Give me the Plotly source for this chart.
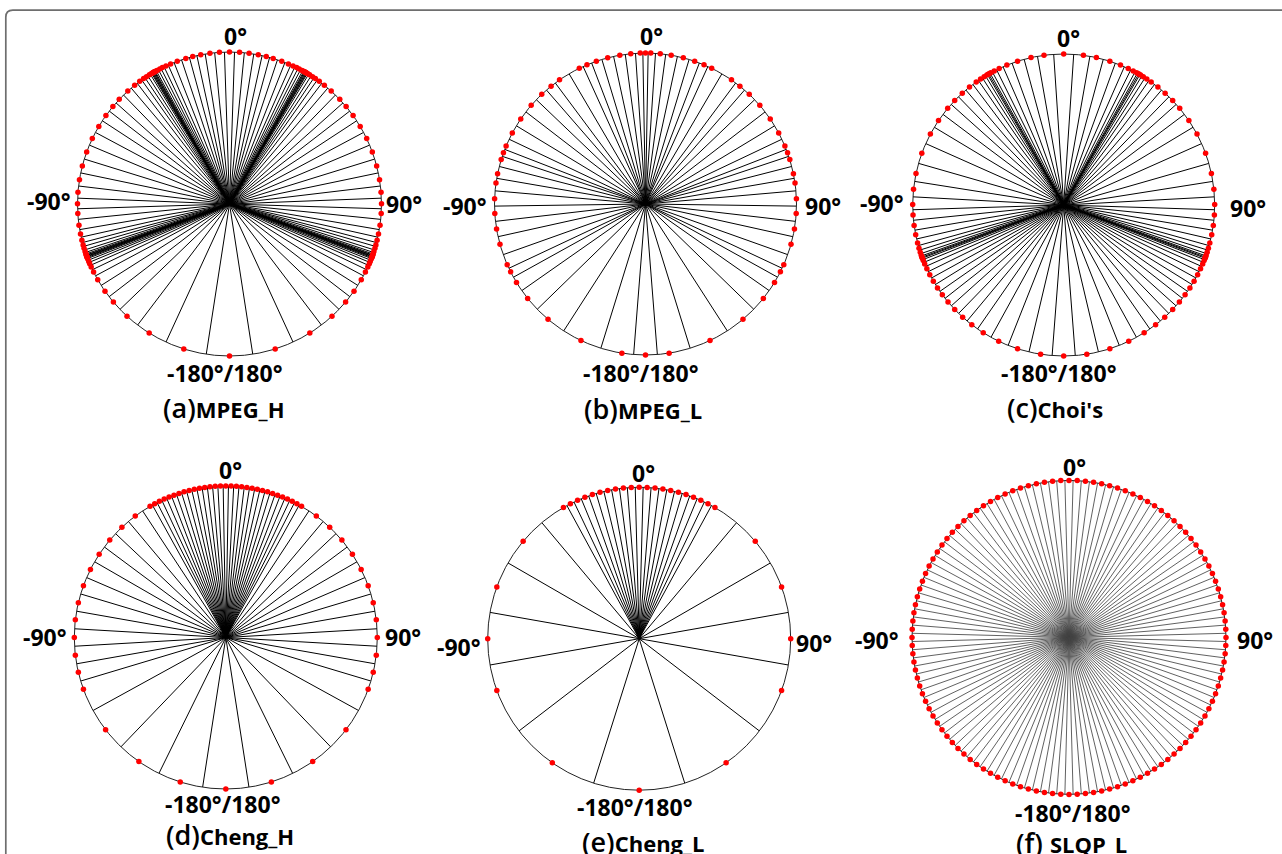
import plotly.graph_objects as go

W, H = 1282, 854

# ---- codeword azimuths (deg, clockwise from front) and cell boundaries ----
MPEG_H_CODES = [-162.5, -148.1, -137.6, -130.2, -125.0, -119.9, -116.6, -114.5, -113.1, -112.2,
                -111.2, -110.7, -110.4, -110.2, -110.0, -109.7, -109.4, -109.0, -108.2, -106.9,
                -105.6, -103.8, -101.4, -98.0, -93.6, -89.9, -85.6, -80.8, -75.5, -70.0,
                -64.5, -59.3, -54.4, -50.1, -46.5, -42.0, -38.6, -36.2, -34.4, -33.1,
                -31.8, -31.0, -30.6, -30.3, -30.0, -29.7, -29.5, -29.1, -28.5, -27.3,
                -26.2, -24.7, -22.8, -20.1, -16.7, -14.0, -10.9, -7.4, -3.8, 0.0,
                3.8, 7.4, 10.9, 14.0, 16.7, 20.1, 22.8, 24.7, 26.2, 27.3,
                28.5, 29.1, 29.5, 29.7, 30.0, 30.3, 30.6, 31.0, 31.8, 33.1,
                34.4, 36.2, 38.6, 42.0, 46.5, 50.1, 54.4, 59.3, 64.5, 70.0,
                75.5, 80.8, 85.6, 89.9, 93.6, 98.0, 101.4, 103.8, 105.6, 106.9,
                108.2, 109.0, 109.4, 109.7, 110.0, 110.2, 110.4, 110.7, 111.2, 112.2,
                113.1, 114.5, 116.6, 119.9, 125.0, 130.2, 137.6, 148.1, 162.5, 180.0]
MPEG_H_EDGES = [-171.2, -155.3, -142.8, -133.9, -127.6, -122.4, -118.2, -115.6, -113.8, -112.6,
                -111.7, -111.0, -110.6, -110.3, -110.1, -109.8, -109.6, -109.2, -108.6, -107.6,
                -106.2, -104.7, -102.6, -99.7, -95.8, -91.8, -87.8, -83.2, -78.2, -72.8,
                -67.2, -61.9, -56.8, -52.3, -48.3, -44.2, -40.3, -37.4, -35.3, -33.8,
                -32.5, -31.4, -30.8, -30.5, -30.2, -29.9, -29.6, -29.3, -28.8, -27.9,
                -26.8, -25.5, -23.8, -21.4, -18.4, -15.3, -12.4, -9.2, -5.6, -1.9,
                1.9, 5.6, 9.2, 12.4, 15.3, 18.4, 21.4, 23.8, 25.5, 26.8,
                27.9, 28.8, 29.3, 29.6, 29.9, 30.2, 30.5, 30.8, 31.4, 32.5,
                33.8, 35.3, 37.4, 40.3, 44.2, 48.3, 52.3, 56.8, 61.9, 67.2,
                72.8, 78.2, 83.2, 87.8, 91.8, 95.8, 99.7, 102.6, 104.7, 106.2,
                107.6, 108.6, 109.2, 109.6, 109.8, 110.1, 110.3, 110.6, 111.0, 111.7,
                112.6, 113.8, 115.6, 118.2, 122.4, 127.6, 133.9, 142.8, 155.3, 171.2]

MPEG_L_CODES = [-171.0, -154.7, -139.8, -128.7, -121.3, -116.7, -113.7, -105.5, -99.5, -93.6,
                -88.0, -82.0, -78.4, -72.9, -70.2, -67.4, -61.9, -55.7, -49.2, -43.4,
                -38.7, -34.7, -26.0, -22.8, -19.0, -14.5, -9.8, -5.6, -2.0, 0.0,
                2.0, 5.6, 9.8, 14.5, 19.0, 22.8, 26.0, 34.7, 38.7, 43.4,
                49.2, 55.7, 61.9, 67.4, 70.2, 72.9, 78.4, 82.0, 88.0, 93.6,
                99.5, 105.5, 113.7, 116.7, 121.3, 128.7, 139.8, 154.7, 171.0, 180.0]
MPEG_L_EDGES = [-175.5, -162.8, -147.2, -134.2, -125.0, -119.0, -115.2, -109.6, -102.5, -96.6,
                -90.8, -85.0, -80.2, -75.6, -71.6, -68.8, -64.6, -58.8, -52.4, -46.3,
                -41.0, -36.7, -30.4, -24.4, -20.9, -16.8, -12.2, -7.7, -3.8, -1.0,
                1.0, 3.8, 7.7, 12.2, 16.8, 20.9, 24.4, 30.4, 36.7, 41.0,
                46.3, 52.4, 58.8, 64.6, 68.8, 71.6, 75.6, 80.2, 85.0, 90.8,
                96.6, 102.5, 109.6, 115.2, 119.0, 125.0, 134.2, 147.2, 162.8, 175.5]

CHOI_CODES = [-171.2, -162.2, -154.5, -147.8, -142.5, -138.0, -133.8, -130.0, -126.5, -123.3,
              -120.3, -117.5, -115.0, -113.0, -111.6, -110.8, -110.3, -110.0, -109.4, -108.2,
              -106.6, -104.6, -101.4, -97.8, -93.8, -89.8, -84.0, -78.0, -70.0, -62.0,
              -56.0, -50.2, -46.2, -42.2, -38.6, -35.4, -33.4, -31.8, -30.6, -30.0,
              -29.6, -28.9, -27.4, -25.3, -22.1, -17.8, -12.5, -7.5, 0.0,
              7.5, 12.5, 17.8, 22.1, 25.3, 27.4, 28.9, 29.6, 30.0, 30.6,
              31.8, 33.4, 35.4, 38.6, 42.2, 46.2, 50.2, 56.0, 62.0, 70.0,
              78.0, 84.0, 89.8, 93.8, 97.8, 101.4, 104.6, 106.6, 108.2, 109.4,
              110.0, 110.3, 110.8, 111.6, 113.0, 115.0, 117.5, 120.3, 123.3, 126.5,
              130.0, 133.8, 138.0, 142.5, 147.8, 154.5, 162.2, 171.2, 180.0]
CHOI_EDGES = [-175.6, -166.7, -158.4, -151.2, -145.2, -140.2, -135.9, -131.9, -128.2, -124.9,
              -121.8, -118.9, -116.2, -114.0, -112.3, -111.2, -110.6, -110.2, -109.7, -108.8,
              -107.4, -105.6, -103.0, -99.6, -95.8, -91.8, -86.9, -81.0, -74.0, -66.0,
              -59.0, -53.1, -48.2, -44.2, -40.4, -37.0, -34.4, -32.6, -31.2, -30.3,
              -29.8, -29.2, -28.2, -26.4, -23.7, -20.0, -15.2, -10.0, -3.8,
              3.8, 10.0, 15.2, 20.0, 23.7, 26.4, 28.2, 29.2, 29.8, 30.3,
              31.2, 32.6, 34.4, 37.0, 40.4, 44.2, 48.2, 53.1, 59.0, 66.0,
              74.0, 81.0, 86.9, 91.8, 95.8, 99.6, 103.0, 105.6, 107.4, 108.8,
              109.7, 110.2, 110.6, 111.2, 112.3, 114.0, 116.2, 118.9, 121.8, 124.9,
              128.2, 131.9, 135.9, 140.2, 145.2, 151.2, 158.4, 166.7, 175.6]

CHENG_H_CODES = [-162.5, -145.0, -127.5, -110.0, -103.3, -96.7, -90.0, -83.3, -76.7, -70.0,
                 -63.3, -56.7, -50.0, -43.3, -36.7, -30, -28, -26, -24, -22,
                 -20, -18, -16, -14, -12, -10, -8, -6, -4, -2, 0,
                 2, 4, 6, 8, 10, 12, 14, 16, 18, 20,
                 22, 24, 26, 28, 30, 36.7, 43.3, 50.0, 56.7, 63.3,
                 70.0, 76.7, 83.3, 90.0, 96.7, 103.3, 110.0, 127.5, 145.0, 162.5, 180.0]
CHENG_H_EDGES = [-171.2, -153.8, -136.2, -118.8, -106.7, -100.0, -93.3, -86.7, -80.0, -73.3,
                 -66.7, -60.0, -53.3, -46.7, -40.0, -33.3, -29, -27, -25, -23,
                 -21, -19, -17, -15, -13, -11, -9, -7, -5, -3, -1,
                 1, 3, 5, 7, 9, 11, 13, 15, 17, 19,
                 21, 23, 25, 27, 29, 33.3, 40.0, 46.7, 53.3, 60.0,
                 66.7, 73.3, 80.0, 86.7, 93.3, 100.0, 106.7, 118.8, 136.2, 153.8, 171.2]

CHENG_L_CODES = [-145, -110, -90, -70, -50, -30, -27, -24, -21, -18, -15, -12, -9, -6, -3, 0,
                 3, 6, 9, 12, 15, 18, 21, 24, 27, 30, 50, 70, 90, 110, 145, 180]
CHENG_L_EDGES = [-162.5, -127.5, -100, -80, -60, -40, -28.5, -25.5, -22.5, -19.5, -16.5, -13.5,
                 -10.5, -7.5, -4.5, -1.5, 1.5, 4.5, 7.5, 10.5, 13.5, 16.5, 19.5, 22.5, 25.5,
                 28.5, 40, 60, 80, 100, 127.5, 162.5]

SLQP_L_CODES = [-177, -174, -171, -168, -165, -162, -159, -156, -153, -150,
                -147, -144, -141, -138, -135, -132, -129, -126, -123, -120,
                -117, -114, -111, -108, -105, -102, -99, -96, -93, -90,
                -87, -84, -81, -78, -75, -72, -69, -66, -63, -60,
                -57, -54, -51, -48, -45, -42, -39, -36, -33, -30,
                -27, -24, -21, -18, -15, -12, -9, -6, -3, 0,
                3, 6, 9, 12, 15, 18, 21, 24, 27, 30,
                33, 36, 39, 42, 45, 48, 51, 54, 57, 60,
                63, 66, 69, 72, 75, 78, 81, 84, 87, 90,
                93, 96, 99, 102, 105, 108, 111, 114, 117, 120,
                123, 126, 129, 132, 135, 138, 141, 144, 147, 150,
                153, 156, 159, 162, 165, 168, 171, 174, 177, 180]
SLQP_L_EDGES = [-178.5, -175.5, -172.5, -169.5, -166.5, -163.5, -160.5, -157.5, -154.5, -151.5,
                -148.5, -145.5, -142.5, -139.5, -136.5, -133.5, -130.5, -127.5, -124.5, -121.5,
                -118.5, -115.5, -112.5, -109.5, -106.5, -103.5, -100.5, -97.5, -94.5, -91.5,
                -88.5, -85.5, -82.5, -79.5, -76.5, -73.5, -70.5, -67.5, -64.5, -61.5,
                -58.5, -55.5, -52.5, -49.5, -46.5, -43.5, -40.5, -37.5, -34.5, -31.5,
                -28.5, -25.5, -22.5, -19.5, -16.5, -13.5, -10.5, -7.5, -4.5, -1.5,
                1.5, 4.5, 7.5, 10.5, 13.5, 16.5, 19.5, 22.5, 25.5, 28.5,
                31.5, 34.5, 37.5, 40.5, 43.5, 46.5, 49.5, 52.5, 55.5, 58.5,
                61.5, 64.5, 67.5, 70.5, 73.5, 76.5, 79.5, 82.5, 85.5, 88.5,
                91.5, 94.5, 97.5, 100.5, 103.5, 106.5, 109.5, 112.5, 115.5, 118.5,
                121.5, 124.5, 127.5, 130.5, 133.5, 136.5, 139.5, 142.5, 145.5, 148.5,
                151.5, 154.5, 157.5, 160.5, 163.5, 166.5, 169.5, 172.5, 175.5, 178.5]

PANEL_TAGS = ["(a)", "(b)", "(c)", "(d)", "(e)", "(f) "]
PANEL_NAMES = ["MPEG_H", "MPEG_L", "Choi's", "Cheng_H", "Cheng_L", "SLQP_L"]
DIRECTION_LABELS = ["0°", "90°", "-180°/180°", "-90°"]   # front, right, back, left

CODES = [MPEG_H_CODES, MPEG_L_CODES, CHOI_CODES, CHENG_H_CODES, CHENG_L_CODES, SLQP_L_CODES]
EDGES = [MPEG_H_EDGES, MPEG_L_EDGES, CHOI_EDGES, CHENG_H_EDGES, CHENG_L_EDGES, SLQP_L_EDGES]

# dial layout in pixels: centre x, centre y, radius
GEOM = [(229.5, 204.0, 152.0), (645.5, 204.0, 151.0), (1063.7, 205.0, 151.0),
        (225.8, 637.5, 151.5), (639.2, 638.7, 151.5), (1069.0, 637.4, 157.0)]
# direction-label anchors in pixels: front (centre), right (left edge),
# back (centre), left (right edge)
FRONT_XY = [(235, 36.5), (651, 36.5), (1068.5, 38), (230.5, 470), (643.5, 472.5), (1074, 466.5)]
RIGHT_XY = [(385, 204), (804, 206), (1229, 208), (384, 637), (795, 643), (1236, 640)]
BACK_XY = [(225, 372.5), (640.5, 372.5), (1058.5, 373), (223, 803.5), (635, 806.5), (1072.5, 813)]
LEFT_XY = [(72, 201), (488, 206), (905, 203), (68, 637), (482, 647), (900, 640)]
TITLE_XY = [(223, 407), (643, 408), (1055, 407), (230, 834), (644, 841), (1071, 842)]
SPOKE_STYLE = [("#000000", 1.0)] * 5 + [("#444444", 0.85)]

FONT = "Open Sans"

fig = go.Figure()
layout = {}
for i in range(6):
    sub = "polar" if i == 0 else f"polar{i + 1}"
    rr, tt = [], []
    for e in EDGES[i]:
        rr += [0, 1, None]
        tt += [e, e, None]
    col, lw = SPOKE_STYLE[i]
    fig.add_trace(go.Scatterpolar(r=rr, theta=tt, mode="lines",
                                  line=dict(color=col, width=lw),
                                  subplot=sub, hoverinfo="skip", showlegend=False))
    fig.add_trace(go.Scatterpolar(r=[1] * len(CODES[i]), theta=CODES[i], mode="markers",
                                  marker=dict(color="#ff0000", size=5.5, line=dict(width=0)),
                                  cliponaxis=False, subplot=sub, showlegend=False))
    cx, cy, R = GEOM[i]
    layout[sub] = dict(
        domain=dict(x=[(cx - R) / W, (cx + R) / W], y=[1 - (cy + R) / H, 1 - (cy - R) / H]),
        bgcolor="white",
        radialaxis=dict(visible=False, range=[0, 1]),
        angularaxis=dict(rotation=90, direction="clockwise", showgrid=False,
                         showline=True, linecolor="#222222", linewidth=1,
                         layer="below traces", ticks="", showticklabels=False),
    )


def px(x, y):
    return x / W, 1 - y / H


annotations = []
lab_font = dict(family=FONT, size=23, color="black", weight="bold")
for i in range(6):
    for xy, text, xa in ((FRONT_XY[i], DIRECTION_LABELS[0], "center"),
                         (RIGHT_XY[i], DIRECTION_LABELS[1], "left"),
                         (BACK_XY[i], DIRECTION_LABELS[2], "center"),
                         (LEFT_XY[i], DIRECTION_LABELS[3], "right")):
        ax_, ay_ = px(*xy)
        annotations.append(dict(x=ax_, y=ay_, xref="paper", yref="paper", showarrow=False,
                                xanchor=xa, yanchor="middle", text=text, font=lab_font,
                                borderpad=0))
    tx, ty = px(*TITLE_XY[i])
    annotations.append(dict(
        x=tx, y=ty, xref="paper", yref="paper", showarrow=False,
        xanchor="center", yanchor="middle",
        text=f"<span style='font-size:27px;font-weight:600'>{PANEL_TAGS[i]}</span>{PANEL_NAMES[i]}",
        font=dict(family=FONT, size=22, color="black", weight="bold")))

# rounded outer frame (top-left corner visible)
x0, yt, rc = 5.8 / W, 1 - 10.2 / H, 7.0
frame = (f"M {x0},-0.05 L {x0},{1 - (10.2 + rc) / H} "
         f"Q {x0},{yt} {(5.8 + rc) / W},{yt} L 1.05,{yt}")

fig.update_layout(
    width=W, height=H, margin=dict(l=0, r=0, t=0, b=0),
    paper_bgcolor="white", plot_bgcolor="white", showlegend=False,
    annotations=annotations,
    shapes=[dict(type="path", xref="paper", yref="paper", path=frame,
                 line=dict(color="#6e6e6e", width=1.7))],
    **layout,
)

fig.write_html("out.html")
